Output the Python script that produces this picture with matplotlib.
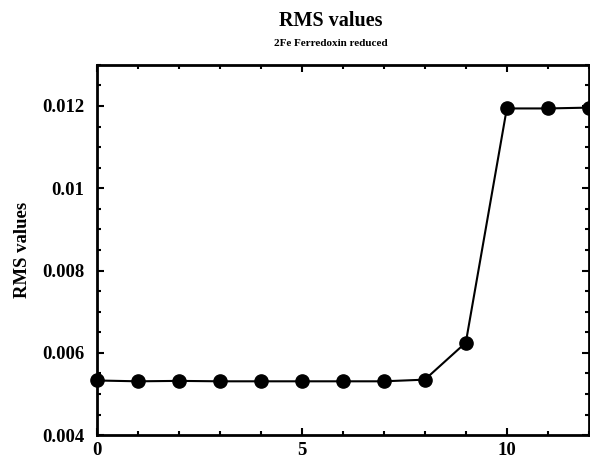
import matplotlib
matplotlib.use('Agg')
import matplotlib.pyplot as plt
from matplotlib.ticker import MultipleLocator

plt.rcParams['font.family'] = ['Liberation Serif', 'DejaVu Serif']
plt.rcParams['font.weight'] = 'bold'

steps = [0, 1, 2, 3, 4, 5, 6, 7, 8, 9, 10, 11, 12]
rms = [0.00533, 0.00531, 0.00532, 0.00531, 0.00531, 0.00531, 0.00531, 0.00531, 0.00535,
       0.00625, 0.01194, 0.01194, 0.01196]
yticks = [0.004, 0.006, 0.008, 0.01, 0.012]
ytick_labels = ['0.004', '0.006', '0.008', '0.01', '0.012']
xticks = [0, 5, 10]

fig = plt.figure(figsize=(5.9, 4.63), dpi=100)
ax = fig.add_axes([0.164, 0.06, 0.834, 0.8])

ax.plot(steps, rms, color='black', linewidth=1.5, marker='o', markersize=9.5, clip_on=False, zorder=3)

ax.set_xlim(0, 12)
ax.set_ylim(0.004, 0.013)
ax.set_xticks(xticks)
ax.set_yticks(yticks)
ax.set_yticklabels(ytick_labels)
ax.xaxis.set_minor_locator(MultipleLocator(1))
ax.yaxis.set_minor_locator(MultipleLocator(0.0005))
ax.tick_params(which='both', direction='in', top=True, right=True, labelsize=13.5, width=1.5)
ax.tick_params(axis='y', pad=9)
ax.tick_params(axis='x', pad=5)
ax.tick_params(which='major', length=5)
ax.tick_params(which='minor', length=3)
for s in ax.spines.values():
    s.set_linewidth(2)

ax.set_ylabel('RMS values', fontsize=13.5, fontweight='bold', labelpad=8)
fig.text(0.56, 0.955, 'RMS values', ha='center', va='center', fontsize=14.5, fontweight='bold')
fig.text(0.56, 0.905, '2Fe Ferredoxin reduced', ha='center', va='center', fontsize=8, fontweight='bold')

fig.savefig('out.png', dpi=100)
